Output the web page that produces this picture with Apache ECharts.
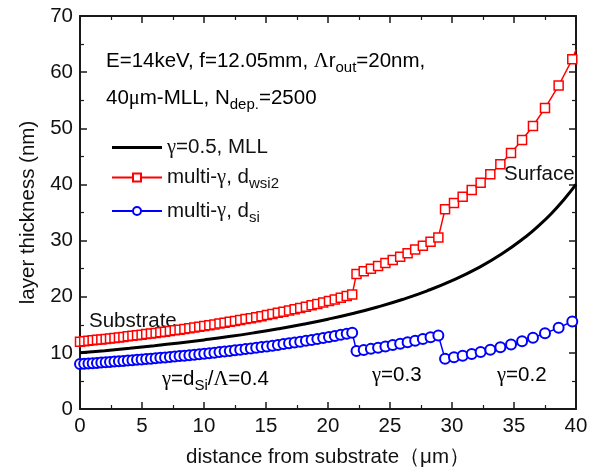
<!DOCTYPE html>
<html>
<head>
<meta charset="utf-8">
<script src="https://cdn.jsdelivr.net/npm/echarts@6/dist/echarts.min.js"></script>
<style>html,body{margin:0;padding:0;background:#fff;}#c{width:602px;height:473px;}</style>
</head>
<body>
<div id="c"></div>
<script>
// ---- data ----
const xTicks = [0, 5, 10, 15, 20, 25, 30, 35, 40];
const yTicks = [0, 10, 20, 30, 40, 50, 60, 70];

const mllX = [0, 2, 4, 6, 8, 10, 12, 14, 16, 18, 20, 22, 24, 26, 28, 30, 32, 34, 36, 37, 38, 39, 40];
const mllY = [10.00, 10.39, 10.81, 11.27, 11.77, 12.31, 12.90, 13.56, 14.29, 15.10, 16.00, 17.02, 18.18, 19.51, 21.05, 22.86, 25.00, 27.59, 30.77, 32.66, 34.79, 37.22, 40.00];

const layerX = [0.00, 0.34, 0.68, 1.02, 1.37, 1.72, 2.07, 2.42, 2.78, 3.14, 3.50, 3.86, 4.23, 4.60, 4.97, 5.34, 5.72, 6.10, 6.48, 6.86,
  7.25, 7.64, 8.03, 8.42, 8.82, 9.22, 9.62, 10.02, 10.43, 10.84, 11.25, 11.66, 12.08, 12.50, 12.92, 13.35, 13.78, 14.21, 14.64, 15.08,
  15.52, 15.96, 16.41, 16.86, 17.31, 17.76, 18.22, 18.68, 19.14, 19.61, 20.08, 20.55, 21.03, 21.51, 21.95,
  22.30, 22.88, 23.46, 24.04, 24.63, 25.22, 25.82, 26.42, 27.03, 27.65, 28.27, 28.90,
  29.44, 30.16, 30.86, 31.59, 32.31, 33.09, 33.90, 34.76, 35.65, 36.53, 37.50, 38.60, 39.70, 40.00];
const wsi2Y = [12.00, 12.08, 12.16, 12.23, 12.32, 12.40, 12.49, 12.57, 12.66, 12.75, 12.84, 12.94, 13.03, 13.13, 13.23, 13.34, 13.44, 13.55, 13.66, 13.77,
  13.89, 14.01, 14.13, 14.25, 14.38, 14.51, 14.64, 14.78, 14.92, 15.06, 15.21, 15.36, 15.52, 15.67, 15.84, 16.01, 16.18, 16.36, 16.54, 16.73,
  16.93, 17.13, 17.33, 17.55, 17.77, 17.99, 18.23, 18.47, 18.72, 18.98, 19.25, 19.52, 19.81, 20.11, 20.40,
  24.06, 24.52, 25.00, 25.49, 26.02, 26.56, 27.14, 27.75, 28.39, 29.08, 29.80, 30.56,
  35.6, 36.7, 37.8, 39.0, 40.3, 41.8, 43.6, 45.6, 47.9, 50.4, 53.6, 57.6, 62.3, 64.0];
const siY = [8.00, 8.05, 8.10, 8.16, 8.21, 8.27, 8.32, 8.38, 8.44, 8.50, 8.56, 8.62, 8.69, 8.76, 8.82, 8.89, 8.96, 9.03, 9.11, 9.18,
  9.26, 9.34, 9.42, 9.50, 9.59, 9.67, 9.76, 9.85, 9.95, 10.04, 10.14, 10.24, 10.34, 10.45, 10.56, 10.67, 10.79, 10.91, 11.03, 11.15,
  11.28, 11.42, 11.56, 11.70, 11.85, 11.99, 12.15, 12.31, 12.48, 12.65, 12.83, 13.02, 13.21, 13.41, 13.60,
  10.31, 10.51, 10.71, 10.93, 11.15, 11.38, 11.63, 11.89, 12.17, 12.46, 12.77, 13.10,
  8.93, 9.21, 9.49, 9.81, 10.15, 10.54, 10.98, 11.49, 12.07, 12.70, 13.48, 14.48, 15.6, 16.0];

const names = ['γ=0.5, MLL', 'multi-γ, d_wsi2', 'multi-γ, d_si'];
const legendRich = {
  'γ=0.5, MLL': '{g|γ}{t|=0.5, MLL}',
  'multi-γ, d_wsi2': '{t|multi-}{g|γ}{t|, d}{s|wsi2}',
  'multi-γ, d_si': '{t|multi-}{g|γ}{t|, d}{s|si}'
};

// ---- chart ----
const FONT = '"Liberation Sans", Arial, sans-serif';
const FS = 20.5;
const AXC = '#1a1a1a';
const chart = echarts.init(document.getElementById('c'));

function pairs(xs, ys) { return xs.map((x, i) => [x, ys[i]]); }
function markedPairs(xs, ys) {
  return xs.map((x, i) => i === xs.length - 1 ? {value: [x, ys[i]], symbol: 'none'} : [x, ys[i]]);
}

const richStyles = {
  t: {fontFamily: FONT, fontSize: FS, color: '#111'},
  g: {fontFamily: '"Liberation Serif", "DejaVu Serif", serif', fontSize: FS, color: '#111'},
  s: {fontFamily: FONT, fontSize: 15, color: '#111', padding: [13, 0, 0, 0]}
};

function axisCommon() {
  return {
    axisLine: {show: true, onZero: false, lineStyle: {color: AXC, width: 2}},
    axisTick: {show: true, inside: true, length: 7, lineStyle: {color: AXC, width: 1.5}},
    minorTick: {show: true, splitNumber: 2, length: 4, lineStyle: {color: AXC, width: 1.2}},
    splitLine: {show: false}
  };
}

// The four frame sides: bottom/left carry labels, top/right mirror them with inward ticks.
const option = {
  animation: false,
  grid: {left: 80, right: 26, top: 16, bottom: 60},
  xAxis: [
    Object.assign({
      type: 'value', min: xTicks[0], max: xTicks[xTicks.length - 1], interval: 5,
      name: 'distance from substrate（μm）', nameLocation: 'middle', nameGap: 38,
      nameTextStyle: {fontFamily: FONT, fontSize: FS, color: '#111'},
      axisLabel: {fontFamily: FONT, fontSize: FS, color: '#111', margin: 7}
    }, axisCommon()),
    Object.assign({
      type: 'value', position: 'top', min: xTicks[0], max: xTicks[xTicks.length - 1], interval: 5,
      axisLabel: {show: false}
    }, axisCommon())
  ],
  yAxis: [
    Object.assign({
      type: 'value', min: yTicks[0], max: yTicks[yTicks.length - 1], interval: 10,
      name: 'layer thickness (nm)', nameLocation: 'middle', nameGap: 40,
      nameTextStyle: {fontFamily: FONT, fontSize: FS, color: '#111'},
      axisLabel: {fontFamily: FONT, fontSize: FS, color: '#111', margin: 7}
    }, axisCommon()),
    Object.assign({
      type: 'value', position: 'right', min: yTicks[0], max: yTicks[yTicks.length - 1], interval: 10,
      axisLabel: {show: false}
    }, axisCommon())
  ],
  legend: {
    orient: 'vertical', left: 106, top: 132, itemWidth: 50, itemHeight: 10, itemGap: 9,
    data: [
      {name: names[0], icon: 'path://M0,0 L50,0 L50,3 L0,3 Z'},
      {name: names[1]},
      {name: names[2]}
    ],
    formatter: n => legendRich[n],
    textStyle: {fontFamily: FONT, fontSize: FS, color: '#111', rich: richStyles}
  },
  series: [
    {
      name: names[0], type: 'line', smooth: true, showSymbol: false, symbol: 'none',
      data: pairs(mllX, mllY), lineStyle: {color: '#000', width: 3}, itemStyle: {color: '#000'}, z: 3
    },
    {
      name: names[1], type: 'line', data: markedPairs(layerX, wsi2Y),
      symbol: 'rect', symbolSize: 9, showAllSymbol: true,
      lineStyle: {color: '#ff0000', width: 1.5},
      itemStyle: {color: '#fff', borderColor: '#ff0000', borderWidth: 1.5}, z: 4
    },
    {
      name: names[2], type: 'line', data: markedPairs(layerX, siY),
      symbol: 'emptyCircle', symbolSize: 10, showAllSymbol: true,
      lineStyle: {color: '#0000ff', width: 1.5},
      itemStyle: {color: '#0000ff', borderColor: '#0000ff', borderWidth: 1.5}, z: 4
    },
    {
      name: 'mirror', type: 'line', xAxisIndex: 1, yAxisIndex: 1,
      data: pairs(mllX, mllY), symbol: 'none', silent: true,
      lineStyle: {opacity: 0, width: 0}, itemStyle: {opacity: 0}, z: 0
    }
  ],
  graphic: [
    {type: 'text', left: 106, top: 51, style: {text: '{t|E=14keV, f=12.05mm, }{g|Λ}{t|r}{s|out}{t|=20nm,}', rich: richStyles}},
    {type: 'text', left: 106, top: 88, style: {text: '{t|40}{g|μ}{t|m-MLL, N}{s|dep.}{t|=2500}', rich: richStyles}},
    {type: 'text', left: 89, top: 311, style: {text: 'Substrate', font: FS + 'px ' + FONT, fill: '#111'}},
    {type: 'text', left: 504, top: 164, style: {text: 'Surface', font: FS + 'px ' + FONT, fill: '#111'}},
    {type: 'text', left: 162, top: 369, style: {text: '{g|γ}{t|=d}{s|Si}{t|/}{g|Λ}{t|=0.4}', rich: richStyles}},
    {type: 'text', left: 372, top: 365, style: {text: '{g|γ}{t|=0.3}', rich: richStyles}},
    {type: 'text', left: 497, top: 365, style: {text: '{g|γ}{t|=0.2}', rich: richStyles}}
  ]
};
chart.setOption(option);
</script>
</body>
</html>
